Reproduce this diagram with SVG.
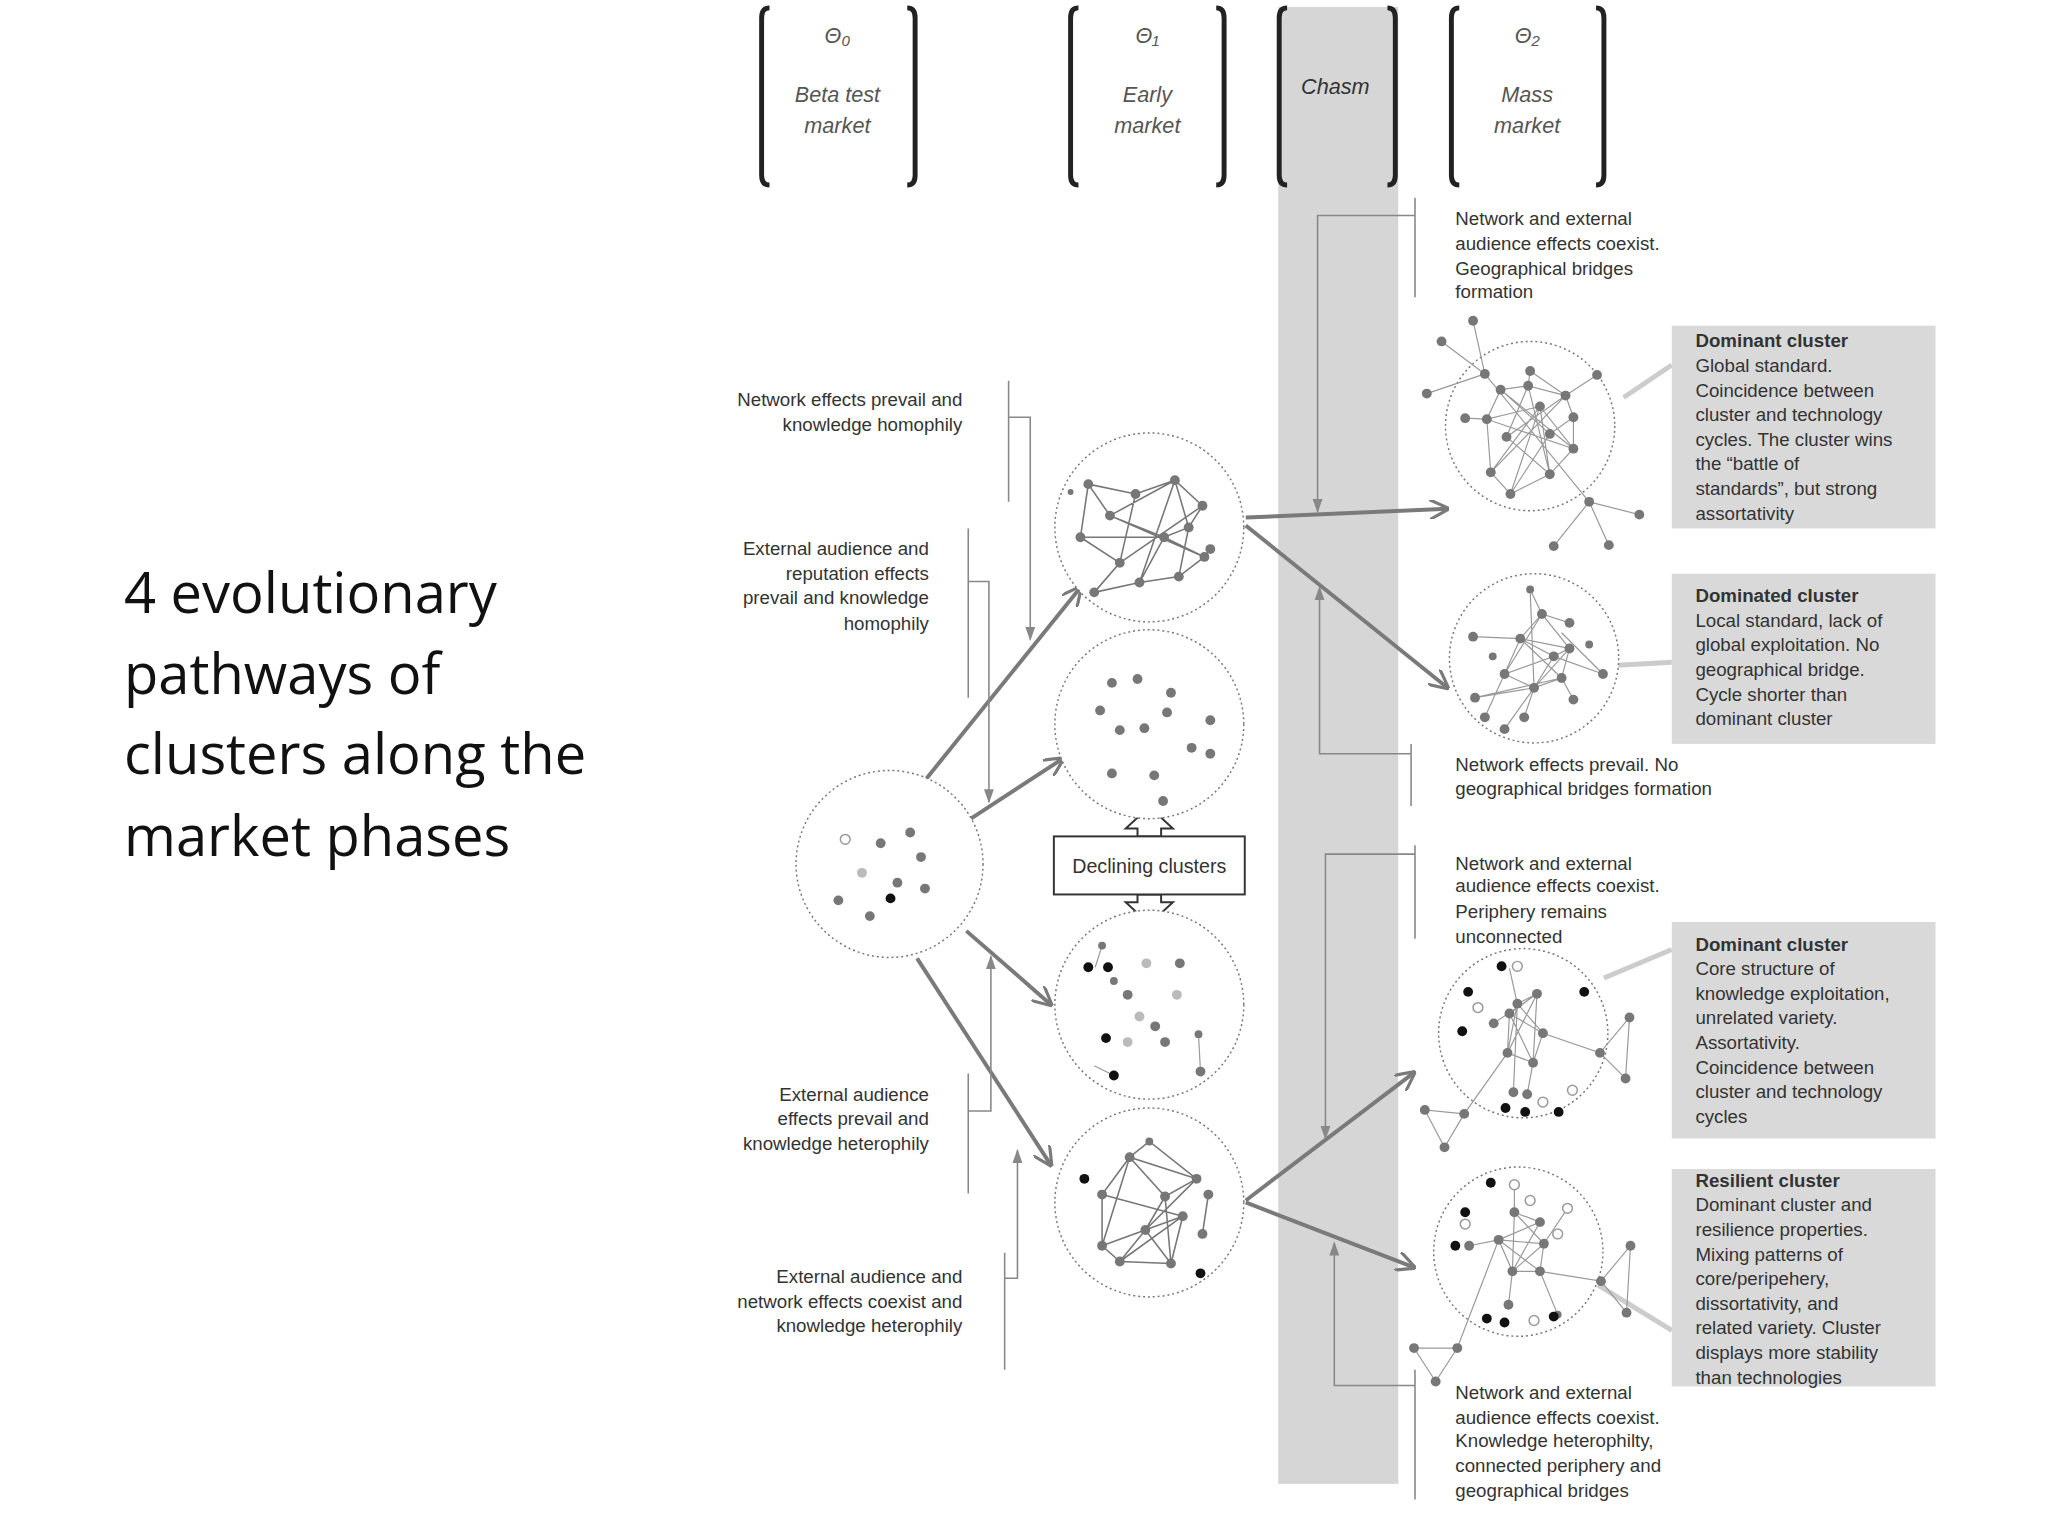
<svg xmlns="http://www.w3.org/2000/svg" width="2048" height="1536" viewBox="0 0 2048 1536">
<defs>
<style>
.t{font-family:"Liberation Sans Narrow","Liberation Sans",Arial,sans-serif;font-size:19px;fill:#333}
.b{font-weight:bold}
.it{font-family:"Liberation Sans",Arial,sans-serif;font-style:italic;font-size:22px;fill:#555;text-anchor:middle}
.title{font-family:"Open Sans","Liberation Sans",sans-serif;font-size:57px;fill:#111}
.br{fill:none;stroke:#222;stroke-width:5}
.circ{fill:#fff;stroke:#777;stroke-width:1.5;stroke-dasharray:2 3}
.arr{stroke:#7a7a7a;stroke-width:4;fill:none}
.thin{stroke:#888;stroke-width:1.6;fill:none}
.ed{stroke:#777;stroke-width:1.6}
.ed2{stroke:#999;stroke-width:1.2}
.n{fill:#777}
.nk{fill:#111}
.nh{fill:#fff;stroke:#999;stroke-width:1.5}
.nl{fill:#bbb}
.box{fill:#d9d9d9}
.lk{stroke:#ccc;stroke-width:5}
</style>
<marker id="ah" viewBox="0 0 10 10" refX="9" refY="5" markerWidth="5" markerHeight="5" orient="auto"><path d="M0,0L10,5L0,10" fill="none" stroke="#7a7a7a" stroke-width="1.6"/></marker>
<marker id="at" viewBox="0 0 10 10" refX="9" refY="5" markerWidth="9" markerHeight="9" orient="auto"><path d="M0,1.5L10,5L0,8.5z" fill="#888"/></marker>
</defs>
<rect width="2048" height="1536" fill="#fff"/>
<g transform="scale(0.984)">
<rect x="1299" y="7" width="122" height="1501" fill="#d6d6d6"/>
<g id="title"><text class="title" x="126" y="623">4 evolutionary</text><text class="title" x="126" y="705">pathways of</text><text class="title" x="126" y="787">clusters along the</text><text class="title" x="126" y="870">market phases</text></g>
<g id="phases">
<path class="br" d="M782,8q-8,0-8,10v160q0,10,8,10M922,8q8,0,8,10v160q0,10-8,10"/>
<text class="it" x="851" y="44">Θ₀</text><text class="it" x="851" y="104">Beta test</text><text class="it" x="851" y="135">market</text>
<path class="br" d="M1096,8q-8,0-8,10v160q0,10,8,10M1236,8q8,0,8,10v160q0,10-8,10"/>
<text class="it" x="1166" y="44">Θ₁</text><text class="it" x="1166" y="104">Early</text><text class="it" x="1166" y="135">market</text>
<path class="br" d="M1308,8q-8,0-8,10v160q0,10,8,10M1410,8q8,0,8,10v160q0,10-8,10"/>
<text class="it" x="1357" y="96" style="fill:#333">Chasm</text>
<path class="br" d="M1483,8q-8,0-8,10v160q0,10,8,10M1622,8q8,0,8,10v160q0,10-8,10"/>
<text class="it" x="1552" y="44">Θ₂</text><text class="it" x="1552" y="104">Mass</text><text class="it" x="1552" y="135">market</text>
</g>
<g id="connectors">
<line class="arr" x1="932" y1="803" x2="1098" y2="597" marker-end="url(#ah)"/>
<line class="arr" x1="982" y1="835" x2="1080" y2="771" marker-end="url(#ah)"/>
<line class="arr" x1="982" y1="946" x2="1068" y2="1021" marker-end="url(#ah)"/>
<line class="arr" x1="932" y1="974" x2="1068" y2="1184" marker-end="url(#ah)"/>
<line class="arr" x1="1266" y1="526" x2="1471" y2="517" marker-end="url(#ah)"/>
<line class="arr" x1="1266" y1="534" x2="1471" y2="699" marker-end="url(#ah)"/>
<line class="arr" x1="1266" y1="1220" x2="1437" y2="1090" marker-end="url(#ah)"/>
<line class="arr" x1="1266" y1="1222" x2="1437" y2="1288" marker-end="url(#ah)"/>
<path class="thin" d="M1025,387V510M1025,424H1047V650" marker-end="url(#at)"/>
<path class="thin" d="M984,537V709M984,591H1005V815" marker-end="url(#at)"/>
<path class="thin" d="M984,1091V1213M984,1129H1007V972" marker-end="url(#at)"/>
<path class="thin" d="M1021,1273V1392M1021,1299H1034V1169" marker-end="url(#at)"/>
<path class="thin" d="M1438,201V302M1438,219H1339V520" marker-end="url(#at)"/>
<path class="thin" d="M1434,756V819M1434,766H1341V597" marker-end="url(#at)"/>
<path class="thin" d="M1438,859V954M1438,868H1347V1157" marker-end="url(#at)"/>
<path class="thin" d="M1438,1392V1524M1438,1408H1356V1263" marker-end="url(#at)"/>
<line class="lk" x1="1650" y1="404" x2="1699" y2="371"/>
<line class="lk" x1="1644" y1="676" x2="1699" y2="673"/>
<line class="lk" x1="1630" y1="994" x2="1699" y2="965"/>
<line class="lk" x1="1624" y1="1306" x2="1699" y2="1352"/>
<path d="M1156,850V842H1144L1168,820L1192,842H1180V850z" fill="#fff" stroke="#333" stroke-width="2"/>
<path d="M1156,909V917H1144L1168,939L1192,917H1180V909z" fill="#fff" stroke="#333" stroke-width="2"/>
</g>
<g id="left-labels" class="t" text-anchor="end">
<text x="978" y="413">Network effects prevail and</text><text x="978" y="438">knowledge homophily</text>
<text x="944" y="564">External audience and</text><text x="944" y="589">reputation effects</text><text x="944" y="614">prevail and knowledge</text><text x="944" y="640">homophily</text>
<text x="944" y="1119">External audience</text><text x="944" y="1143">effects prevail and</text><text x="944" y="1169">knowledge heterophily</text>
<text x="978" y="1304">External audience and</text><text x="978" y="1329">network effects coexist and</text><text x="978" y="1354">knowledge heterophily</text>
</g>
<g id="right-labels" class="t">
<text x="1479" y="229">Network and external</text><text x="1479" y="254">audience effects coexist.</text><text x="1479" y="279">Geographical bridges</text><text x="1479" y="303">formation</text>
<text x="1479" y="784">Network effects prevail. No</text><text x="1479" y="808">geographical bridges formation</text>
<text x="1479" y="884">Network and external</text><text x="1479" y="907">audience effects coexist.</text><text x="1479" y="933">Periphery remains</text><text x="1479" y="958">unconnected</text>
<text x="1479" y="1422">Network and external</text><text x="1479" y="1447">audience effects coexist.</text><text x="1479" y="1471">Knowledge heterophilty,</text><text x="1479" y="1496">connected periphery and</text><text x="1479" y="1521">geographical bridges</text>
</g>
<g id="box1"><rect class="box" x="1699" y="331" width="268" height="206"/>
<text class="t" x="1723" y="353"><tspan class="b">Dominant cluster</tspan><tspan x="1723" dy="25">Global standard.</tspan><tspan x="1723" dy="25">Coincidence between</tspan><tspan x="1723" dy="25">cluster and technology</tspan><tspan x="1723" dy="25">cycles. The cluster wins</tspan><tspan x="1723" dy="25">the “battle of</tspan><tspan x="1723" dy="25">standards”, but strong</tspan><tspan x="1723" dy="25">assortativity</tspan></text></g>
<g id="box2"><rect class="box" x="1699" y="583" width="268" height="173"/>
<text class="t" x="1723" y="612"><tspan class="b">Dominated cluster</tspan><tspan x="1723" dy="25">Local standard, lack of</tspan><tspan x="1723" dy="25">global exploitation. No</tspan><tspan x="1723" dy="25">geographical bridge.</tspan><tspan x="1723" dy="25">Cycle shorter than</tspan><tspan x="1723" dy="25">dominant cluster</tspan></text></g>
<g id="box3"><rect class="box" x="1699" y="937" width="268" height="220"/>
<text class="t" x="1723" y="966"><tspan class="b">Dominant cluster</tspan><tspan x="1723" dy="25">Core structure of</tspan><tspan x="1723" dy="25">knowledge exploitation,</tspan><tspan x="1723" dy="25">unrelated variety.</tspan><tspan x="1723" dy="25">Assortativity.</tspan><tspan x="1723" dy="25">Coincidence between</tspan><tspan x="1723" dy="25">cluster and technology</tspan><tspan x="1723" dy="25">cycles</tspan></text></g>
<g id="box4"><rect class="box" x="1699" y="1188" width="268" height="221"/>
<text class="t" x="1723" y="1206"><tspan class="b">Resilient cluster</tspan><tspan x="1723" dy="25">Dominant cluster and</tspan><tspan x="1723" dy="25">resilience properties.</tspan><tspan x="1723" dy="25">Mixing patterns of</tspan><tspan x="1723" dy="25">core/peripehery,</tspan><tspan x="1723" dy="25">dissortativity, and</tspan><tspan x="1723" dy="25">related variety. Cluster</tspan><tspan x="1723" dy="25">displays more stability</tspan><tspan x="1723" dy="25">than technologies</tspan></text></g>
<g id="declining"><rect x="1071" y="850" width="194" height="59" fill="#fff" stroke="#333" stroke-width="2"/><text class="t" x="1168" y="887" text-anchor="middle" style="font-size:20px">Declining clusters</text></g>
<g id="start" transform="translate(904,878)"><circle class="circ" r="95"/>
<circle class="nh" cx="-45" cy="-25" r="5"/><circle class="n" cx="-9" cy="-21" r="5"/><circle class="n" cx="21" cy="-32" r="5"/><circle class="n" cx="32" cy="-7" r="5"/><circle class="nl" cx="-28" cy="9" r="5"/><circle class="n" cx="8" cy="19" r="5"/><circle class="n" cx="36" cy="25" r="5"/><circle class="n" cx="-52" cy="37" r="5"/><circle class="nk" cx="1" cy="35" r="5"/><circle class="n" cx="-20" cy="53" r="5"/></g>
<g id="early1" transform="translate(1168,536)"><circle class="circ" r="96"/>
<g class="ed"><path d="M-62,-44L-14,-34L26,-48L54,-22L40,0L15,10L-40,-12L-62,-44M-62,-44L-70,10L-30,36L-56,66L-10,56L30,50L56,30L62,22M-14,-34L-30,36M26,-48L-10,56M-40,-12L56,30M-70,10L15,10L-10,56M26,-48L40,0L30,50M54,-22L-30,36M-40,-12L26,-48M15,10L56,30M-56,66L-30,36L-14,-34" fill="none"/></g>
<g class="n"><circle cx="-62" cy="-44" r="5"/><circle cx="-14" cy="-34" r="5"/><circle cx="26" cy="-48" r="5"/><circle cx="54" cy="-22" r="5"/><circle cx="40" cy="0" r="5"/><circle cx="15" cy="10" r="5"/><circle cx="-40" cy="-12" r="5"/><circle cx="-70" cy="10" r="5"/><circle cx="-30" cy="36" r="5"/><circle cx="-56" cy="66" r="5"/><circle cx="-10" cy="56" r="5"/><circle cx="30" cy="50" r="5"/><circle cx="56" cy="30" r="5"/><circle cx="62" cy="22" r="5"/><circle cx="-80" cy="-36" r="3"/></g></g>
<g id="early2" transform="translate(1168,736)"><circle class="circ" r="96"/>
<g class="n"><circle cx="-38" cy="-42" r="5"/><circle cx="-12" cy="-46" r="5"/><circle cx="-50" cy="-14" r="5"/><circle cx="22" cy="-32" r="5"/><circle cx="-30" cy="6" r="5"/><circle cx="-5" cy="4" r="5"/><circle cx="18" cy="-12" r="5"/><circle cx="62" cy="-4" r="5"/><circle cx="43" cy="24" r="5"/><circle cx="62" cy="30" r="5"/><circle cx="-38" cy="50" r="5"/><circle cx="5" cy="52" r="5"/><circle cx="14" cy="78" r="5"/></g></g>
<g id="early3" transform="translate(1168,1021)"><circle class="circ" r="96"/>
<g class="ed2"><path d="M-55,-38L-48,-60M50,30L52,68M-56,62L-36,72" fill="none"/></g>
<circle class="n" cx="-48" cy="-60" r="4"/><circle class="nk" cx="-62" cy="-38" r="5"/><circle class="nk" cx="-42" cy="-38" r="5"/><circle class="nl" cx="-3" cy="-42" r="5"/><circle class="n" cx="31" cy="-42" r="5"/><circle class="n" cx="-22" cy="-10" r="5"/><circle class="nl" cx="28" cy="-10" r="5"/><circle class="n" cx="-36" cy="-24" r="4"/><circle class="nl" cx="-10" cy="12" r="5"/><circle class="n" cx="6" cy="22" r="5"/><circle class="nk" cx="-44" cy="34" r="5"/><circle class="nl" cx="-22" cy="38" r="5"/><circle class="n" cx="16" cy="38" r="5"/><circle class="n" cx="50" cy="30" r="4"/><circle class="n" cx="52" cy="68" r="5"/><circle class="nk" cx="-36" cy="72" r="5"/></g>
<g id="early4" transform="translate(1168,1222)"><circle class="circ" r="96"/>
<g class="ed"><path d="M-20,-46L0,-62L48,-24L-20,-46L-48,-8L-48,44L-20,-46M-20,-46L16,-6L48,-24L-4,28L-30,60L34,14L-48,44M-48,-8L34,14L22,62L16,-6L-4,28L22,62M-48,44L-30,60L22,62M60,-8L54,32" fill="none"/></g>
<g class="n"><circle cx="-20" cy="-46" r="5"/><circle cx="0" cy="-62" r="4"/><circle cx="48" cy="-24" r="5"/><circle cx="-48" cy="-8" r="5"/><circle cx="-48" cy="44" r="5"/><circle cx="16" cy="-6" r="5"/><circle cx="-4" cy="28" r="5"/><circle cx="-30" cy="60" r="5"/><circle cx="34" cy="14" r="5"/><circle cx="22" cy="62" r="5"/><circle cx="60" cy="-8" r="5"/><circle cx="54" cy="32" r="5"/></g>
<circle class="nk" cx="-66" cy="-24" r="5"/><circle class="nk" cx="52" cy="72" r="5"/></g>
<g id="mass1" transform="translate(1555,433)"><circle class="circ" r="86"/>
<g class="ed2"><path d="M-46,-53L-90,-86M-46,-53L-105,-33M-46,-53L-58,-107M-46,-53L60,77M60,77L80,121M60,77L24,122M60,77L111,90M-30,-37L-2,-41L36,-31L44,-9L44,23L20,49L-20,69L-40,47L-44,-7L-30,-37L20,8L44,-9M-2,-41L-24,11L20,49L10,-20L-44,-7L44,23L-30,-37M0,-56L36,-31L-2,-41L0,-56M-24,11L36,-31L-40,47L10,-20L44,23M-20,69L10,-20M-66,-8L-44,-7M20,8L-20,69M36,-31L68,-52M-2,-41L20,49" fill="none"/></g>
<g class="n"><circle cx="-46" cy="-53" r="5"/><circle cx="-90" cy="-86" r="5"/><circle cx="-105" cy="-33" r="5"/><circle cx="-58" cy="-107" r="5"/><circle cx="60" cy="77" r="5"/><circle cx="80" cy="121" r="5"/><circle cx="24" cy="122" r="5"/><circle cx="111" cy="90" r="5"/><circle cx="-30" cy="-37" r="5"/><circle cx="-2" cy="-41" r="5"/><circle cx="36" cy="-31" r="5"/><circle cx="44" cy="-9" r="5"/><circle cx="44" cy="23" r="5"/><circle cx="20" cy="49" r="5"/><circle cx="-20" cy="69" r="5"/><circle cx="-40" cy="47" r="5"/><circle cx="-44" cy="-7" r="5"/><circle cx="20" cy="8" r="5"/><circle cx="-24" cy="11" r="5"/><circle cx="10" cy="-20" r="5"/><circle cx="0" cy="-56" r="5"/><circle cx="-66" cy="-8" r="5"/><circle cx="68" cy="-52" r="5"/></g></g>
<g id="mass2" transform="translate(1559,669)"><circle class="circ" r="86"/>
<g class="ed2"><path d="M-4,-70L8,-45L-14,-20L20,-2L36,-10L28,20L0,30L-30,16L-14,-20L36,-10L0,30L-4,-70M-62,-22L-14,-20L28,20L-60,40L0,30L20,-2L-30,16L8,-45L36,-10M-10,60L0,30L-30,72M40,42L28,20M8,-45L36,-36M-30,16L-50,60M28,-26L70,16L20,-2" fill="none"/></g>
<g class="n"><circle cx="-4" cy="-70" r="4"/><circle cx="8" cy="-45" r="5"/><circle cx="-14" cy="-20" r="5"/><circle cx="20" cy="-2" r="5"/><circle cx="36" cy="-10" r="5"/><circle cx="28" cy="20" r="5"/><circle cx="0" cy="30" r="5"/><circle cx="-30" cy="16" r="5"/><circle cx="-62" cy="-22" r="5"/><circle cx="-60" cy="40" r="5"/><circle cx="-10" cy="60" r="5"/><circle cx="-30" cy="72" r="5"/><circle cx="40" cy="42" r="5"/><circle cx="36" cy="-36" r="5"/><circle cx="-50" cy="60" r="5"/><circle cx="70" cy="16" r="5"/><circle cx="-42" cy="-2" r="4"/><circle cx="56" cy="-14" r="4"/></g></g>
<g id="mass3" transform="translate(1548,1050)"><circle class="circ" r="86"/>
<g class="ed2"><path d="M-14,-66L-6,-30L14,-40L-14,-20L-16,20L10,30L20,0L-6,-30L-16,20L14,-40L10,30L-14,-20L20,0M-6,-30L-10,60M20,0L78,20L108,-16L104,46L78,20M-16,20L-60,82L-80,116L-100,78L-60,82M10,30L4,62M14,-40L-30,-10" fill="none"/></g>
<g class="n"><circle cx="-6" cy="-30" r="5"/><circle cx="14" cy="-40" r="5"/><circle cx="-14" cy="-20" r="5"/><circle cx="-16" cy="20" r="5"/><circle cx="10" cy="30" r="5"/><circle cx="20" cy="0" r="5"/><circle cx="-10" cy="60" r="5"/><circle cx="78" cy="20" r="5"/><circle cx="108" cy="-16" r="5"/><circle cx="104" cy="46" r="5"/><circle cx="-60" cy="82" r="5"/><circle cx="-80" cy="116" r="5"/><circle cx="-100" cy="78" r="5"/><circle cx="4" cy="62" r="5"/><circle cx="-30" cy="-10" r="5"/></g>
<circle class="nk" cx="-22" cy="-68" r="5"/><circle class="nh" cx="-6" cy="-68" r="5"/><circle class="nk" cx="-56" cy="-42" r="5"/><circle class="nk" cx="62" cy="-42" r="5"/><circle class="nk" cx="-62" cy="-2" r="5"/><circle class="nh" cx="-46" cy="-26" r="5"/><circle class="nk" cx="-18" cy="76" r="5"/><circle class="nk" cx="2" cy="80" r="5"/><circle class="nk" cx="36" cy="80" r="5"/><circle class="nh" cx="50" cy="58" r="5"/><circle class="nh" cx="20" cy="70" r="5"/></g>
<g id="mass4" transform="translate(1543,1272)"><circle class="circ" r="86"/>
<g class="ed2"><path d="M-4,-40L22,-30L-20,-12L-6,20L22,20L26,-8L-4,-40L-6,20M22,-30L-6,20L26,-8L-20,-12L22,20M-10,54L-6,20L-20,-12M22,20L84,30L114,-6L110,62L84,30M-20,-12L-62,98L-84,132L-106,98L-62,98M26,-8L50,-44M-20,-12L-50,-6M22,20L40,64M-4,-40L-4,-68" fill="none"/></g>
<g class="n"><circle cx="-4" cy="-40" r="5"/><circle cx="22" cy="-30" r="5"/><circle cx="-20" cy="-12" r="5"/><circle cx="-6" cy="20" r="5"/><circle cx="22" cy="20" r="5"/><circle cx="26" cy="-8" r="5"/><circle cx="-10" cy="54" r="5"/><circle cx="84" cy="30" r="5"/><circle cx="114" cy="-6" r="5"/><circle cx="110" cy="62" r="5"/><circle cx="-62" cy="98" r="5"/><circle cx="-84" cy="132" r="5"/><circle cx="-106" cy="98" r="5"/><circle cx="-50" cy="-6" r="5"/><circle cx="40" cy="64" r="4"/></g>
<circle class="nk" cx="-28" cy="-70" r="5"/><circle class="nh" cx="-4" cy="-68" r="5"/><circle class="nh" cx="12" cy="-52" r="5"/><circle class="nk" cx="-54" cy="-40" r="5"/><circle class="nk" cx="-64" cy="-6" r="5"/><circle class="nh" cx="-54" cy="-28" r="5"/><circle class="nh" cx="50" cy="-44" r="5"/><circle class="nh" cx="40" cy="-18" r="5"/><circle class="nk" cx="-32" cy="68" r="5"/><circle class="nk" cx="-14" cy="72" r="5"/><circle class="nk" cx="36" cy="66" r="5"/><circle class="nh" cx="16" cy="70" r="5"/></g>
</g>
</svg>
